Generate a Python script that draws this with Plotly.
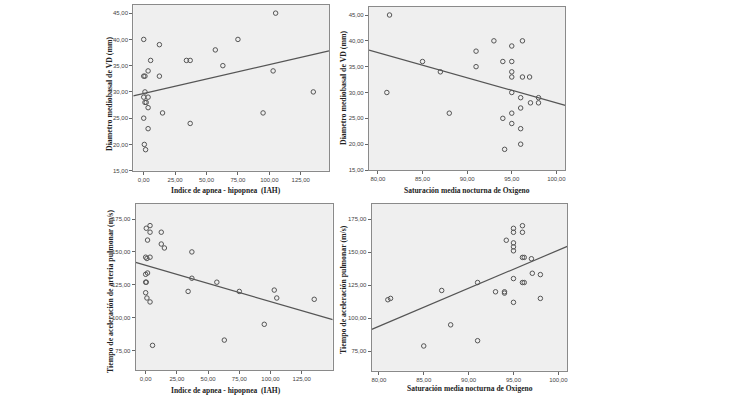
import numpy as np
import plotly.graph_objects as go

# ---- data ----
iah_vd = [0, 12.5, 5.5, 34, 37, 57, 75, 105, 63, 103, 135, 95, 37, 15, 3.5, 0, 1, 12.5,
          1, 0, 3.5, 1, 2, 3.5, 0, 3.5, 0.5, 1.5]
vd_iah = [40, 39, 36, 36, 36, 38, 40, 45, 35, 34, 30, 26, 24, 26, 34, 33, 33, 33,
          30, 29, 29, 28, 28, 27, 25, 23, 20, 19]

sat_vd = [81.3, 81, 85, 87, 88, 91, 91, 93, 94, 95, 95, 95, 95, 96.2, 96.2, 97, 95, 96,
          98, 97.1, 98, 96, 95, 94, 95, 96, 96, 94.2]
vd_sat = [45, 30, 36, 34, 26, 38, 35, 40, 36, 39, 36, 34, 33, 40, 33, 33, 30, 29,
          29, 28, 28, 27, 26, 25, 24, 23, 20, 19]

iah_ta = [0.5, 3.5, 3.5, 1.5, 12.5, 12.5, 15, 37, 0, 1, 3.5, 0, 1.5, 0, 0.5, 0, 1, 3.5,
          5.5, 34, 37, 57, 75, 63, 95, 103, 105, 135]
ta_iah = [168, 170, 165, 159, 165, 156, 153, 150, 146, 145, 146, 133, 134, 127, 127, 119, 115, 112,
          79, 120, 130, 127, 120, 83, 95, 121, 115, 114]

sat_ta = [81, 81.3, 85, 87, 88, 91, 91, 93, 94, 94, 94.2, 95, 95, 95, 95, 95, 96, 96,
          96, 96.2, 97, 95, 97.1, 98, 96, 96.2, 95, 98]
ta_sat = [114, 115, 79, 121, 95, 127, 83, 120, 120, 119, 159, 168, 165, 157, 154, 151, 170, 165,
          146, 146, 145, 130, 134, 133, 127, 127, 112, 115]

x_iah_ticks = [0, 25, 50, 75, 100, 125]
x_sat_ticks = [80, 85, 90, 95, 100]
y_vd_ticks = [15, 20, 25, 30, 35, 40, 45]
y_ta_ticks = [75, 100, 125, 150, 175]

title_iah = "Indice de apnea - hipopnea  (IAH)"
title_sat = "Saturación media nocturna de Oxigeno"
title_vd = "Diametro mediobasal de VD (mm)"
title_ta1 = "Tiempo de aceleración de arteria pulmonar (m/s)"
title_ta2 = "Tiempo de aceleración pulmonar (m/s)"

# ---- styling ----
MARK = "#555555"
BORDER = "#8a8a8a"
BG = "#efefef"
TICKFONT = dict(family="Liberation Sans, Arial", size=6, color="#444444")
XTITLEFONT = dict(family="Liberation Serif, Times New Roman", size=7.5, color="#222222")
YTITLEFONT = dict(family="Liberation Serif, Times New Roman", size=7.8, color="#222222")

panels = [
    # x data, y data, xrange, yrange, xdomain, ydomain, xticks, yticks
    (iah_vd, vd_iah, [-8.3, 147.5], [15, 46.6], [0.1777, 0.4387], [0.569, 0.988], x_iah_ticks, y_vd_ticks),
    (sat_vd, vd_sat, [79.0, 101.0], [15, 46.6], [0.492, 0.7537], [0.5707, 0.983], x_sat_ticks, y_vd_ticks),
    (iah_ta, ta_iah, [-8.0, 149.8], [60.3, 186.4], [0.1809, 0.4436], [0.0657, 0.4848], x_iah_ticks, y_ta_ticks),
    (sat_ta, ta_sat, [79.2, 101.0], [60.3, 186.4], [0.4956, 0.7564], [0.0639, 0.4848], x_sat_ticks, y_ta_ticks),
]

fig = go.Figure()
layout = dict(
    width=750, height=396,
    margin=dict(l=0, r=0, t=0, b=0),
    paper_bgcolor="white",
    showlegend=False,
    separators=",.",
)

for i, (xs, ys, xr, yr, xd, yd, xt, yt) in enumerate(panels, start=1):
    sfx = "" if i == 1 else str(i)
    xa, ya = "x" + sfx, "y" + sfx
    fig.add_trace(go.Scatter(
        x=xs, y=ys, mode="markers", xaxis=xa, yaxis=ya,
        marker=dict(symbol="circle-open", size=4.5, color=MARK, line=dict(width=1, color=MARK)),
        hoverinfo="skip"))
    slope, icpt = np.polyfit(np.array(xs, float), np.array(ys, float), 1)
    lx = np.array(xr)
    fig.add_trace(go.Scatter(
        x=lx, y=icpt + slope * lx, mode="lines", xaxis=xa, yaxis=ya,
        line=dict(color="#555555", width=1.2), hoverinfo="skip"))
    common = dict(showline=True, linecolor=BORDER, linewidth=1.2, mirror=True,
                  showgrid=False, zeroline=False, ticks="outside", ticklen=3,
                  tickcolor="#666666", tickwidth=1, tickfont=TICKFONT,
                  tickformat=".2f", automargin=False)
    layout["xaxis" + sfx] = dict(common, range=xr, domain=xd, tickvals=xt,
                                 anchor=ya)
    layout["yaxis" + sfx] = dict(common, range=yr, domain=yd, tickvals=yt,
                                 anchor=xa)

fig.update_layout(**layout)
fig.update_layout(plot_bgcolor=BG)

# axis titles (placed as annotations in paper coordinates)
def ann(text, x, y, font, angle=0):
    fig.add_annotation(text="<b>%s</b>" % text, x=x / 750, y=1 - y / 396,
                       xref="paper", yref="paper", showarrow=False,
                       textangle=angle, font=font,
                       xanchor="center", yanchor="middle")

ann(title_iah, 226, 190.5, XTITLEFONT)
ann(title_sat, 467, 190.5, XTITLEFONT)
ann(title_iah, 226, 390, XTITLEFONT)
ann(title_sat, 470, 388, XTITLEFONT)
ann(title_vd, 110, 94, YTITLEFONT, -90)
ann(title_vd, 343, 88, YTITLEFONT, -90)
ann(title_ta1, 110, 292, YTITLEFONT, -90)
ann(title_ta2, 343, 290, YTITLEFONT, -90)

fig.write_html("out.html", config={"displayModeBar": False},
               post_script="document.body.style.margin='0';")
